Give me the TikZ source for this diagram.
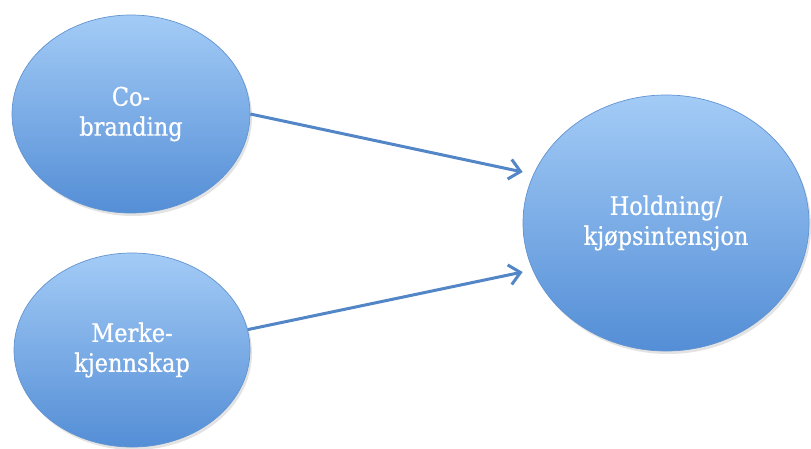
\documentclass[tikz,border=0pt]{standalone}
\usepackage{fontspec}
\setmainfont{DejaVu Serif}[FakeStretch=0.88,FakeBold=0.6]
\usetikzlibrary{arrows.meta,shadows,shapes.geometric}

\definecolor{bubbletop}{RGB}{163,203,246}
\definecolor{bubblebottom}{RGB}{84,142,214}
\definecolor{bubbleedge}{RGB}{98,148,210}
\definecolor{linkblue}{RGB}{82,134,198}

\tikzset{
  bubble/.style={
    ellipse, inner sep=0pt,
    top color=bubbletop, bottom color=bubblebottom,
    draw=bubbleedge, line width=0.7pt,
    drop shadow={shadow xshift=2pt, shadow yshift=-3pt, opacity=0.18, fill=black!60},
    text=white, align=center,
    font=\fontsize{25.5}{30}\selectfont
  },
  link/.style={
    draw=linkblue, line width=3pt,
    -{Straight Barb[length=11pt,width=20pt,line width=3pt]}
  }
}

\begin{document}
\begin{tikzpicture}[x=1pt,y=-1pt]
  \useasboundingbox (0,0) rectangle (811,448);

  % three constructs
  \node[bubble, minimum width=238pt, minimum height=198pt] (co)   at (131,114) {Co-\\branding};
  \node[bubble, minimum width=236pt, minimum height=194pt] (mk)   at (132,350) {Merke-\\kjennskap};
  \node[bubble, minimum width=286pt, minimum height=256pt] (hold) at (666,223) {Holdning/\\kjøpsintensjon};

  % effects on attitude / purchase intention
  \draw[link] (co.east) -- ([yshift=51pt]hold.west);
  \draw[link] (mk.10)   -- ([yshift=-49pt]hold.west);
\end{tikzpicture}
\end{document}
